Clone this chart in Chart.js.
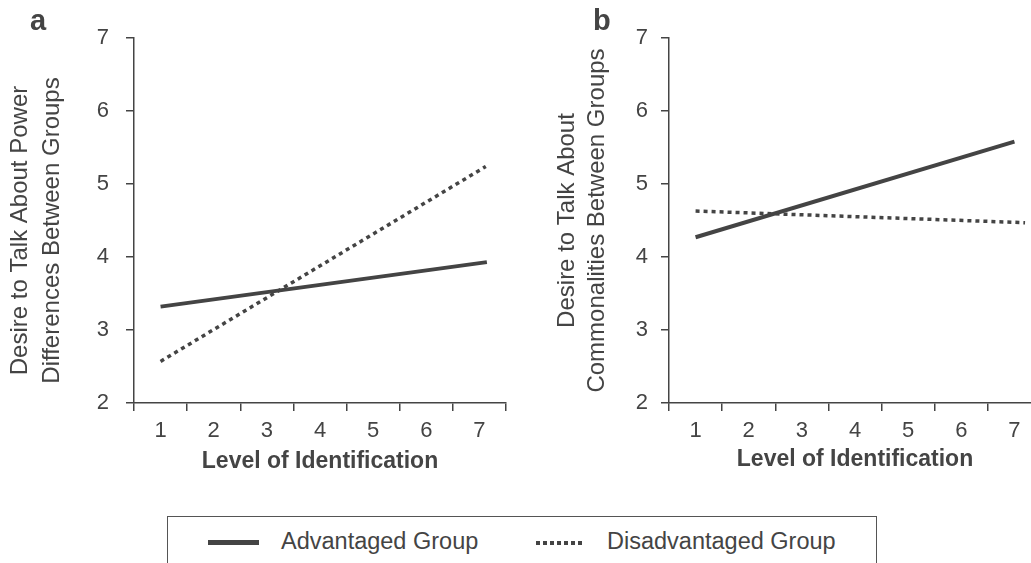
<!DOCTYPE html>
<html>
<head>
<meta charset="utf-8">
<script src="https://cdn.jsdelivr.net/npm/chart.js@4.4.1/dist/chart.umd.min.js"></script>
<style>
    html, body { margin: 0; padding: 0; width: 1031px; height: 563px; overflow: hidden; background: #fff; }
    body { position: relative; font-family: "Liberation Sans", Arial, sans-serif; color: #444; }
    canvas { position: absolute; top: 0; }
    #chartA { left: 0; }
    #chartB { left: 520px; }
    .letter { position: absolute; font-weight: bold; font-size: 29px; line-height: 29px; }
    #legend { position: absolute; left: 167px; top: 516px; width: 708px; height: 70px; border: 1.5px solid #555; }
    .item { position: absolute; top: 10px; font-size: 23.5px; line-height: 28px; white-space: nowrap; }
    .solid { position: absolute; top: 23px; width: 51px; height: 5px; background: #444; }
    .dots { position: absolute; top: 24px; width: 48px; height: 4px;
        background: repeating-linear-gradient(90deg, #444 0 4px, transparent 4px 7px); }
</style>
</head>
<body>
<canvas id="chartA" width="530" height="490"></canvas>
<canvas id="chartB" width="530" height="490"></canvas>
<div class="letter" style="left:30px; top:6px;">a</div>
<div class="letter" style="left:593px; top:6px;">b</div>
<div id="legend">
    <div class="solid" style="left:40px;"></div>
    <div class="item" style="left:113px;">Advantaged Group</div>
    <div class="dots" style="left:368px;"></div>
    <div class="item" style="left:439px;">Disadvantaged Group</div>
</div>
<script>
// levels of identification (x) and the y range
const levels = ['1', '2', '3', '4', '5', '6', '7'];
const yMin = 2;
const yMax = 7;

// [level, desire] end points
const powerAdvantaged = [[1, 3.32], [7.14, 3.93]];
const powerDisadvantaged = [[1, 2.57], [7.12, 5.24]];
const commonAdvantaged = [[1, 4.27], [7.0, 5.58]];
const commonDisadvantaged = [[1, 4.63], [7.2, 4.47]];

const ink = '#444';
const family = '"Liberation Sans", Arial, sans-serif';

drawPanel('chartA', {
    adv: powerAdvantaged,
    dis: powerDisadvantaged,
    title: ['Desire to Talk About Power   ', 'Differences Between Groups   '],
    yWidth: 134, tickPad: 17, titleLH: 1.333, titlePad: 4.5,
    xHeight: 72.4, padBottom: 14.6, padRight: 24
});
drawPanel('chartB', {
    adv: commonAdvantaged,
    dis: commonDisadvantaged,
    title: ['Desire to Talk About', 'Commonalities Between Groups'],
    yWidth: 149, tickPad: 13, titleLH: 1.25, titlePad: 32.3,
    xHeight: 70.4, padBottom: 16.6, padRight: 9
});

function drawPanel(id, s) {
    const ctx = document.getElementById(id).getContext('2d');
    new Chart(ctx, {
        type: 'line',
        data: {
            labels: levels,
            datasets: [{
                label: 'Advantaged Group',
                data: s.adv,
                xAxisID: 'xv',
                borderColor: ink,
                borderWidth: 4,
                pointRadius: 0,
                fill: false,
                tension: 0
            }, {
                label: 'Disadvantaged Group',
                data: s.dis,
                xAxisID: 'xv',
                borderColor: ink,
                borderWidth: 3.5,
                borderDash: [4, 4],
                borderCapStyle: 'butt',
                pointRadius: 0,
                fill: false,
                tension: 0
            }]
        },
        options: {
            responsive: false,
            animation: false,
            layout: { padding: { left: 0, top: 38, right: s.padRight, bottom: s.padBottom } },
            plugins: { legend: { display: false }, tooltip: { enabled: false } },
            scales: {
                x: {
                    type: 'category',
                    offset: true,
                    grid: { offset: true, drawOnChartArea: false, tickLength: 8, color: ink, lineWidth: 1.5 },
                    border: { color: ink, width: 1.5 },
                    ticks: { color: ink, font: { family: family, size: 22 }, padding: 7, maxRotation: 0, autoSkip: false },
                    title: {
                        display: true,
                        text: 'Level of Identification',
                        color: ink,
                        padding: 0,
                        font: { family: family, size: 23, weight: 'bold', lineHeight: 1.2 }
                    },
                    afterFit: function (scale) { scale.height = s.xHeight; }
                },
                xv: { type: 'linear', display: false, min: 0.5, max: 7.5 },
                y: {
                    min: yMin,
                    max: yMax,
                    ticks: { stepSize: 1, color: ink, font: { family: family, size: 22 }, padding: s.tickPad },
                    grid: { drawOnChartArea: false, tickLength: 8, color: ink, lineWidth: 1.5 },
                    border: { color: ink, width: 1.5 },
                    title: {
                        display: true,
                        text: s.title,
                        color: ink,
                        padding: { top: s.titlePad, bottom: 0 },
                        font: { family: family, size: 24, lineHeight: s.titleLH }
                    },
                    afterFit: function (scale) { scale.width = s.yWidth; }
                }
            }
        }
    });
}
</script>
</body>
</html>
